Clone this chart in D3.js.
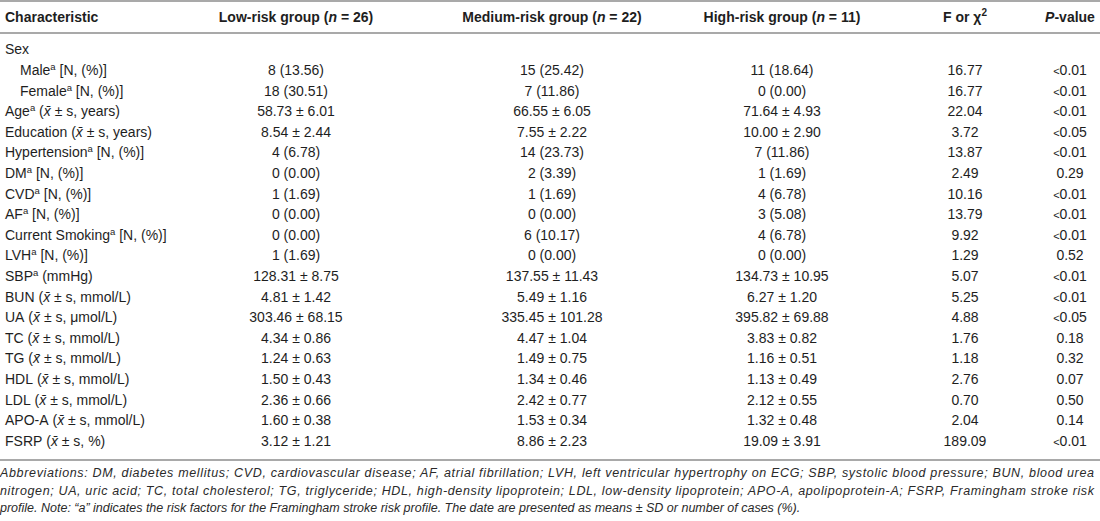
<!DOCTYPE html>
<html>
<head>
<meta charset="utf-8">
<script src="https://cdn.jsdelivr.net/npm/d3@7"></script>
<style>
  html, body { margin: 0; padding: 0; background: #fff; }
  svg { display: block; font-family: "Liberation Sans", Arial, sans-serif; }
  .cell { fill: #1e1e1e; font-size: 14px; }
  .head { fill: #1e1e1e; font-size: 14px; font-weight: bold; }
  .note { fill: #2a2a2a; font-size: 12.5px; font-style: italic; }
  .rule { stroke: #8c8c8c; stroke-width: 1.6; }
</style>
</head>
<body>
<svg id="chart" width="1100" height="521"></svg>
<script>
// ---- table content -------------------------------------------------------

const columns = ["Characteristic", "Low-risk group", "Medium-risk group", "High-risk group", "F or χ", "P-value"];
const groupSizes = [26, 22, 11];

const characteristics = ["Sex", "Male", "Female", "Age", "Education", "Hypertension", "DM", "CVD", "AF",
    "Current Smoking", "LVH", "SBP", "BUN", "UA", "TC", "TG", "HDL", "LDL", "APO-A", "FSRP"];

// "a" marks Framingham risk factors
const framingham = [false, true, true, true, false, true, true, true, true, true, true, true,
    false, false, false, false, false, false, false, false];

const indented = [false, true, true, false, false, false, false, false, false, false, false, false,
    false, false, false, false, false, false, false, false];

const units = ["", "[N, (%)]", "[N, (%)]", "(x̄ ± s, years)", "(x̄ ± s, years)", "[N, (%)]", "[N, (%)]",
    "[N, (%)]", "[N, (%)]", "[N, (%)]", "[N, (%)]", "(mmHg)", "(x̄ ± s, mmol/L)", "(x̄ ± s, μmol/L)",
    "(x̄ ± s, mmol/L)", "(x̄ ± s, mmol/L)", "(x̄ ± s, mmol/L)", "(x̄ ± s, mmol/L)", "(x̄ ± s, mmol/L)",
    "(x̄ ± s, %)"];

const lowRisk = ["", "8 (13.56)", "18 (30.51)", "58.73 ± 6.01", "8.54 ± 2.44", "4 (6.78)", "0 (0.00)",
    "1 (1.69)", "0 (0.00)", "0 (0.00)", "1 (1.69)", "128.31 ± 8.75", "4.81 ± 1.42", "303.46 ± 68.15",
    "4.34 ± 0.86", "1.24 ± 0.63", "1.50 ± 0.43", "2.36 ± 0.66", "1.60 ± 0.38", "3.12 ± 1.21"];

const mediumRisk = ["", "15 (25.42)", "7 (11.86)", "66.55 ± 6.05", "7.55 ± 2.22", "14 (23.73)", "2 (3.39)",
    "1 (1.69)", "0 (0.00)", "6 (10.17)", "0 (0.00)", "137.55 ± 11.43", "5.49 ± 1.16", "335.45 ± 101.28",
    "4.47 ± 1.04", "1.49 ± 0.75", "1.34 ± 0.46", "2.42 ± 0.77", "1.53 ± 0.34", "8.86 ± 2.23"];

const highRisk = ["", "11 (18.64)", "0 (0.00)", "71.64 ± 4.93", "10.00 ± 2.90", "7 (11.86)", "1 (1.69)",
    "4 (6.78)", "3 (5.08)", "4 (6.78)", "0 (0.00)", "134.73 ± 10.95", "6.27 ± 1.20", "395.82 ± 69.88",
    "3.83 ± 0.82", "1.16 ± 0.51", "1.13 ± 0.49", "2.12 ± 0.55", "1.32 ± 0.48", "19.09 ± 3.91"];

const fStat = ["", "16.77", "16.77", "22.04", "3.72", "13.87", "2.49", "10.16", "13.79", "9.92", "1.29",
    "5.07", "5.25", "4.88", "1.76", "1.18", "2.76", "0.70", "2.04", "189.09"];

const pValue = ["", "<0.01", "<0.01", "<0.01", "<0.05", "<0.01", "0.29", "<0.01", "<0.01", "<0.01", "0.52",
    "<0.01", "<0.01", "<0.05", "0.18", "0.32", "0.07", "0.50", "0.14", "<0.01"];

const footnote = [
    "Abbreviations: DM, diabetes mellitus; CVD, cardiovascular disease; AF, atrial fibrillation; LVH, left ventricular hypertrophy on ECG; SBP, systolic blood pressure; BUN, blood urea",
    "nitrogen; UA, uric acid; TC, total cholesterol; TG, triglyceride; HDL, high-density lipoprotein; LDL, low-density lipoprotein; APO-A, apolipoprotein-A; FSRP, Framingham stroke risk",
    "profile. Note: “a” indicates the risk factors for the Framingham stroke risk profile. The date are presented as means ± SD or number of cases (%)."
];

//-------------------------------------------------------------------------------

const svg = d3.select('#chart');
const W = 1100;

const y = d3.scaleBand()
    .domain(d3.range(characteristics.length))
    .range([39, 451]);

// column centres (first column is left aligned)
const x = d3.scaleOrdinal()
    .domain(columns)
    .range([5, 296, 552, 782, 965, 1070]);

const baseline = i => y(i) + y.bandwidth() / 2 + 5;

// rules
const rules = [1, 33, 460];
svg.selectAll('line.rule')
    .data(rules)
    .join('line')
    .attr('class', 'rule')
    .attr('x1', 0).attr('x2', W)
    .attr('y1', d => d).attr('y2', d => d);

// header ------------------------------------------------------------
const headY = 22;
const head = svg.append('g');

head.append('text').attr('class', 'head')
    .attr('x', x(columns[0])).attr('y', headY)
    .text(columns[0]);

[1, 2, 3].forEach(k => {
    const t = head.append('text').attr('class', 'head')
        .attr('x', x(columns[k])).attr('y', headY)
        .attr('text-anchor', 'middle');
    t.append('tspan').text(columns[k] + ' (');
    t.append('tspan').style('font-style', 'italic').text('n');
    t.append('tspan').text(' = ' + groupSizes[k - 1] + ')');
});

const fHead = head.append('text').attr('class', 'head')
    .attr('x', x(columns[4])).attr('y', headY)
    .attr('text-anchor', 'middle');
fHead.append('tspan').text(columns[4]);
fHead.append('tspan').attr('dy', -6).style('font-size', '10px').text('2');

const pHead = head.append('text').attr('class', 'head')
    .attr('x', x(columns[5])).attr('y', headY)
    .attr('text-anchor', 'middle');
pHead.append('tspan').style('font-style', 'italic').text('P');
pHead.append('tspan').text('-value');

// first column labels ------------------------------------------------
const labels = svg.append('g')
    .selectAll('text')
    .data(characteristics)
    .join('text')
    .attr('class', 'cell')
    .attr('x', (d, i) => x(columns[0]) + (indented[i] ? 15 : 0))
    .attr('y', (d, i) => baseline(i));

labels.each(function (d, i) {
    const t = d3.select(this);
    t.append('tspan').text(d);
    if (framingham[i]) {
        t.append('tspan').attr('dy', -5).style('font-size', '9.5px').text('a');
    }
    if (units[i]) {
        const parts = units[i].split('x̄');
        t.append('tspan').attr('y', baseline(i)).text(' ' + parts[0]);
        if (parts.length > 1) {
            t.append('tspan').style('font-style', 'italic').text('x̄');
            t.append('tspan').text(parts[1]);
        }
    }
});

// value columns ------------------------------------------------------
const valueCols = [lowRisk, mediumRisk, highRisk, fStat, pValue];

valueCols.forEach((vals, k) => {
    svg.append('g')
        .selectAll('text')
        .data(vals)
        .join('text')
        .attr('class', 'cell')
        .attr('text-anchor', 'middle')
        .attr('x', x(columns[k + 1]))
        .attr('y', (d, i) => baseline(i))
        .each(function (d) {
            const t = d3.select(this);
            if (d.startsWith('<')) {
                // the "less than" sign is set smaller in the source table
                t.append('tspan').style('font-size', '11px').text('<');
                t.append('tspan').text(d.slice(1));
            } else {
                t.text(d);
            }
        });
});

// footnote ----------------------------------------------------------
svg.append('g')
    .selectAll('text')
    .data(footnote)
    .join('text')
    .attr('class', 'note')
    .attr('x', 0)
    .attr('y', (d, i) => 477 + i * 17.5)
    .attr('textLength', (d, i) => i < 2 ? 1094 : null)
    .attr('lengthAdjust', 'spacing')
    .text(d => d);
</script>
</body>
</html>
